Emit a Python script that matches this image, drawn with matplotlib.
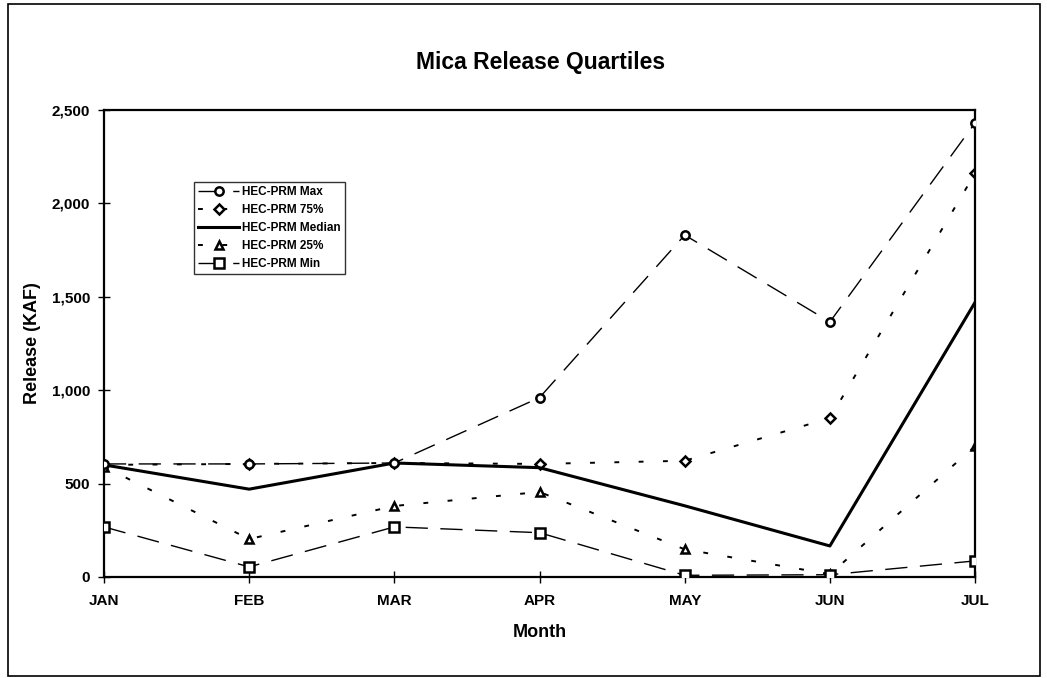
import matplotlib
matplotlib.use("Agg")
from matplotlib import pyplot as plt
from matplotlib.patches import Rectangle

plt.rcParams['font.family'] = ['Liberation Sans', 'DejaVu Sans']

months = ["JAN", "FEB", "MAR", "APR", "MAY", "JUN", "JUL"]
rel_max = [605, 605, 610, 960, 1830, 1365, 2430]
rel_75 = [600, 605, 610, 605, 622, 850, 2160]
rel_median = [600, 470, 610, 585, 381, 166, 1470]
rel_25 = [590, 203, 380, 455, 148, 15, 700]
rel_min = [268, 54, 268, 237, 9, 12, 86]

fig = plt.figure(figsize=(10.47, 6.78), dpi=100)
ax = fig.add_axes([0.0993, 0.149, 0.832, 0.689])

x = list(range(len(months)))
mk = dict(markerfacecolor="white", markeredgecolor="black", markeredgewidth=1.8, color="black")
dash = (0, (16, 9))
dot = (0, (2.5, 10))
ax.plot(x, rel_75, linestyle=dot, lw=1.4, marker="D", markersize=5.2, label="HEC-PRM 75%", zorder=2, **mk)
ax.plot(x, rel_max, linestyle=dash, lw=1.0, marker="o", markersize=6, label="HEC-PRM Max", zorder=3, **mk)
ax.plot(x, rel_median, linestyle="-", lw=2.2, color="black", label="HEC-PRM Median", zorder=2)
ax.plot(x, rel_25, linestyle=dot, lw=1.4, marker="^", markersize=6, label="HEC-PRM 25%", zorder=2, **mk)
ax.plot(x, rel_min, linestyle=dash, lw=1.0, marker="s", markersize=6.5, label="HEC-PRM Min", zorder=3, **mk)

ax.set_xlim(0, 6)
ax.set_ylim(0, 2500)
ax.set_xticks(x)
ax.set_xticklabels(months)
ax.set_yticks([0, 500, 1000, 1500, 2000, 2500])
ax.set_yticklabels(["0", "500", "1,000", "1,500", "2,000", "2,500"])
ax.tick_params(direction="inout", length=8, width=1, labelsize=11, pad=6)
ax.tick_params(axis="x", pad=8)
for lab in ax.get_xticklabels() + ax.get_yticklabels():
    lab.set_fontweight("bold")
for s in ax.spines.values():
    s.set_linewidth(1.6)

ax.set_xlabel("Month", fontsize=13, fontweight="bold", labelpad=12)
ax.set_ylabel("Release (KAF)", fontsize=13, fontweight="bold", labelpad=8)
fig.text(0.516, 0.908, "Mica Release Quartiles", ha="center", va="center",
         fontsize=16.5, fontweight="bold")

handles, labels = ax.get_legend_handles_labels()
order = [1, 0, 2, 3, 4]
leg = ax.legend([handles[i] for i in order], [labels[i] for i in order],
                loc="upper left", bbox_to_anchor=(0.097, 0.858),
                prop={"size": 8.5, "weight": "bold"},
                frameon=True, fancybox=False, edgecolor="black", handlelength=3.4,
                handletextpad=0.3, borderpad=0.35, labelspacing=0.5)
leg.get_frame().set_linewidth(1.0)

# page frame around the whole chart
fig.patches.append(Rectangle((8 / 1047, 2 / 678), 1032 / 1047, 672 / 678,
                             transform=fig.transFigure, fill=False,
                             edgecolor="black", lw=1.2))

fig.savefig("out.png", dpi=100)
